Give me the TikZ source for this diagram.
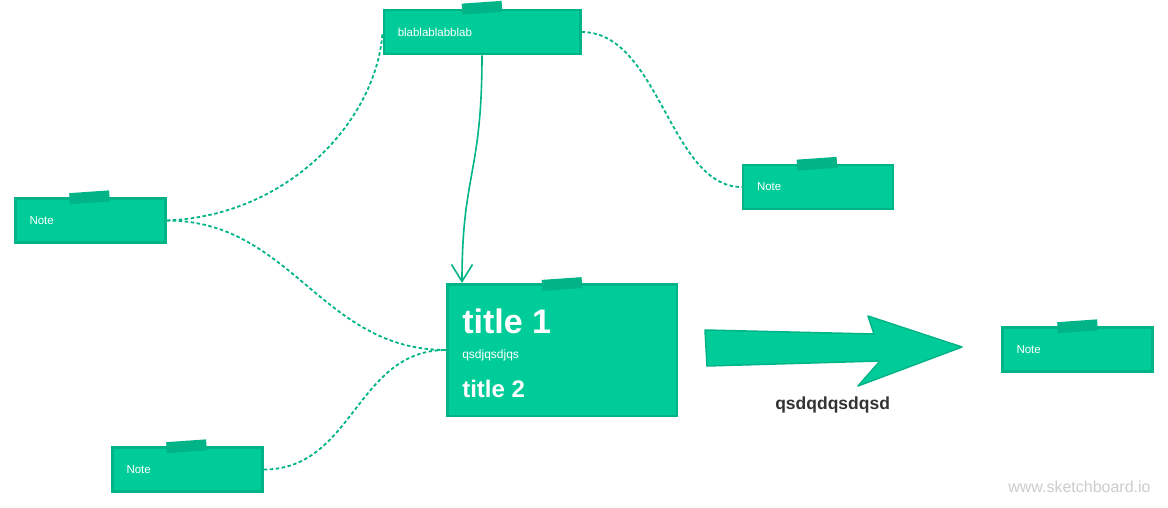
\documentclass[tikz,border=0pt]{standalone}
\usepackage{fontspec}
\setmainfont{Liberation Sans}
\usepackage{xcolor}
\usepackage{tikz}
\usetikzlibrary{arrows.meta}
\usetikzlibrary{calc}
\usetikzlibrary{positioning}

\definecolor{notefill}{RGB}{0,204,153}
\definecolor{noteedge}{RGB}{0,180,135}
\definecolor{labelgray}{RGB}{51,51,51}
\definecolor{markgray}{RGB}{204,204,204}

\begin{document}
\begin{tikzpicture}[x=1pt,y=-1pt,semithick]
	\tikzstyle{note}=[draw=noteedge, fill=notefill, line width=2.5pt, minimum width=150pt, minimum height=44pt, inner xsep=14pt, text width=122pt, align=left, text=white, font=\fontsize{11.5}{14}\selectfont]
	\tikzstyle{tape}=[fill=noteedge, minimum width=40pt, minimum height=11pt, inner sep=0pt, rotate=4]
	\tikzstyle{link}=[draw=noteedge, line width=1.8pt, dash pattern=on 3.5pt off 2.5pt]
	\tikzstyle{title}=[anchor=base west, inner sep=0pt, text=white, font=\bfseries]
	\useasboundingbox (0,0) rectangle (1168,507);

	\node[note, minimum width=196.5pt, text width=168.5pt] (T) at (482,32) {blablablabblab};
	\node[note] (L)  at (90.5,220.5)  {Note};
	\node[note] (R)  at (818,187)     {Note};
	\node[note] (BL) at (187.5,469.5) {Note};
	\node[note] (FR) at (1077.5,349.5) {Note};
	\node[note, minimum width=229.5pt, minimum height=131.5pt, text width=0pt] (B) at (562,350) {};

	\node[tape] at ($(T.north)+(0,-1)$)  {};
	\node[tape] at ($(L.north)+(-1,0)$)  {};
	\node[tape] at ($(R.north)+(-1,0)$)  {};
	\node[tape] at ($(BL.north)+(-1,0)$) {};
	\node[tape] at ($(FR.north)+(0,0)$)  {};
	\node[tape] at ($(B.north)+(0,1)$)   {};

	\node[title, font=\bfseries\fontsize{34}{34}\selectfont] (t1) at ([shift={(16,50)}]B.north west) {title 1};
	\node[title, font=\fontsize{12}{12}\selectfont] (sub) at ([shift={(16,75)}]B.north west) {qsdjqsdjqs};
	\node[title, font=\bfseries\fontsize{24}{24}\selectfont] (t2) at ([shift={(16,114)}]B.north west) {title 2};

	% big arrow
	\filldraw[fill=notefill, draw=noteedge, line width=1.5pt, line join=round]
		(705,330) -- (874,334) -- (868,316) -- (962,347) -- (858,386) -- (880,361) -- (707,366) -- cycle;
	\node[anchor=base west, inner sep=0pt, text=labelgray, font=\bfseries\fontsize{17.5}{17.5}\selectfont] (lab) at (775,409) {qsdqdqsdqsd};

	\node[anchor=base west, inner sep=0pt, text=markgray, font=\fontsize{16}{16}\selectfont] (wm) at (1008,492) {www.sketchboard.io};

	\draw[draw=noteedge, line width=1.6pt, -{Straight Barb[length=17pt,width=21pt,line width=1.6pt]}]
		(T.south) .. controls +(0,120) and +(0,-110) .. ([xshift=16]B.north west);
	\draw[link] (L.east) .. controls +(125,-5) and +(-5,85) .. (T.west);
	\draw[link] (T.east) .. controls +(78,0) and +(-72,0) .. (R.west);
	\draw[link] (L.east) .. controls +(125,0) and +(-125,0) .. (B.west);
	\draw[link] (BL.east) .. controls +(90,0) and +(-90,0) .. (B.west);
\end{tikzpicture}
\end{document}
